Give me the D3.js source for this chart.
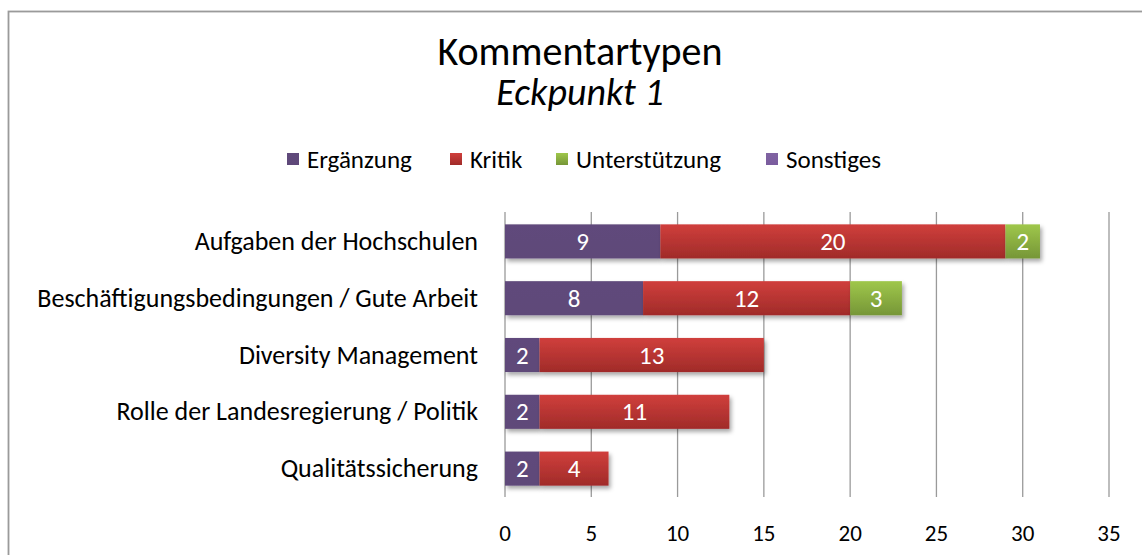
<!DOCTYPE html>
<html lang="de">
<head>
<meta charset="UTF-8">
<title>Kommentartypen - Eckpunkt 1</title>
<script src="https://d3js.org/d3.v7.min.js"></script>
<style>
  body { margin: 0; background: #fff; }
  svg { display: block; font-family: Carlito, Lato, "Open Sans", sans-serif; }
  .cat { font-size: 26px; fill: #000; }
  .tick-label { font-size: 23px; fill: #000; }
  .val { font-size: 25px; fill: #fff; }
  .grid { stroke: #9a9a9a; stroke-width: 1.3; }
</style>
</head>
<body>
<svg width="1142" height="555"></svg>
<script>
const categories = [
  "Aufgaben der Hochschulen",
  "Beschäftigungsbedingungen / Gute Arbeit",
  "Diversity Management",
  "Rolle der Landesregierung / Politik",
  "Qualitätssicherung"
];
const seriesNames = ["Ergänzung", "Kritik", "Unterstützung", "Sonstiges"];
const ergaenzung = [9, 8, 2, 2, 2];
const kritik = [20, 12, 13, 11, 4];
const unterstuetzung = [2, 3, 0, 0, 0];
const sonstiges = [0, 0, 0, 0, 0];
const tickValues = [0, 5, 10, 15, 20, 25, 30, 35];

const gradTop = ["#604a7b", "#d03f3c", "#9fc74b", "#8064a2"];
const gradBot = ["#5e4879", "#a02b29", "#769637", "#7a5c9e"];

const svg = d3.select("svg");
const defs = svg.append("defs");

gradTop.forEach((c, i) => {
  const g = defs.append("linearGradient")
    .attr("id", "grad" + i).attr("x1", 0).attr("y1", 0).attr("x2", 0).attr("y2", 1);
  g.append("stop").attr("offset", "0%").attr("stop-color", gradTop[i]);
  g.append("stop").attr("offset", "100%").attr("stop-color", gradBot[i]);
});

defs.append("filter").attr("id", "shadow")
  .attr("x", "-10%").attr("y", "-20%").attr("width", "130%").attr("height", "160%")
  .append("feDropShadow")
  .attr("dx", 2).attr("dy", 3).attr("stdDeviation", 2)
  .attr("flood-color", "#000").attr("flood-opacity", 0.35);

// chart border
svg.append("rect")
  .attr("x", 8.5).attr("y", 11.5).attr("width", 1150).attr("height", 560)
  .attr("fill", "none").attr("stroke", "#9a9a9a").attr("stroke-width", 1.8);

// title
svg.append("text")
  .attr("x", 580).attr("y", 65)
  .attr("text-anchor", "middle").attr("font-size", 40)
  .text("Kommentartypen");
svg.append("text")
  .attr("x", 580).attr("y", 105)
  .attr("text-anchor", "middle").attr("font-size", 38).attr("font-style", "italic")
  .text("Eckpunkt 1");

// legend
const legendX = [287, 450, 556, 766];
const legend = svg.append("g");
seriesNames.forEach((name, i) => {
  legend.append("rect")
    .attr("x", legendX[i]).attr("y", 153).attr("width", 12).attr("height", 12)
    .attr("fill", "url(#grad" + i + ")");
  legend.append("text")
    .attr("x", legendX[i] + 20).attr("y", 167.5)
    .attr("font-size", 25)
    .text(name);
});

const x = d3.scaleLinear().domain([0, 35]).range([505, 1109]);
const y = d3.scaleBand().domain(categories).range([213, 497])
  .paddingInner(0.4).paddingOuter(0.2);

// gridlines
svg.append("g").selectAll("line")
  .data(tickValues).join("line")
  .attr("class", "grid")
  .attr("x1", d => x(d)).attr("x2", d => x(d))
  .attr("y1", 212).attr("y2", 497);

// tick labels
svg.append("g").selectAll("text")
  .data(tickValues).join("text")
  .attr("class", "tick-label")
  .attr("x", d => x(d)).attr("y", 541)
  .attr("text-anchor", "middle")
  .text(d => d);

// category labels
svg.append("g").selectAll("text")
  .data(categories).join("text")
  .attr("class", "cat")
  .attr("x", 478).attr("y", d => y(d) + y.bandwidth() / 2 + 8.5)
  .attr("text-anchor", "end")
  .text(d => d);

// stacked bars
const table = categories.map((c, i) => ({
  cat: c,
  "Ergänzung": ergaenzung[i],
  "Kritik": kritik[i],
  "Unterstützung": unterstuetzung[i],
  "Sonstiges": sonstiges[i]
}));
const stacked = d3.stack().keys(seriesNames)(table);

const layers = svg.append("g").selectAll("g")
  .data(stacked).join("g")
  .attr("fill", (d, i) => "url(#grad" + i + ")");

layers.selectAll("rect")
  .data(d => d.filter(s => s[1] > s[0]))
  .join("rect")
  .attr("x", d => x(d[0]))
  .attr("y", d => y(d.data.cat))
  .attr("width", d => x(d[1]) - x(d[0]))
  .attr("height", y.bandwidth())
  .attr("filter", "url(#shadow)");

layers.selectAll("text")
  .data(d => d.filter(s => s[1] > s[0]))
  .join("text")
  .attr("class", "val")
  .attr("x", d => (x(d[0]) + x(d[1])) / 2)
  .attr("y", d => y(d.data.cat) + y.bandwidth() / 2 + 8.5)
  .attr("text-anchor", "middle")
  .text(d => d[1] - d[0]);
</script>
</body>
</html>
